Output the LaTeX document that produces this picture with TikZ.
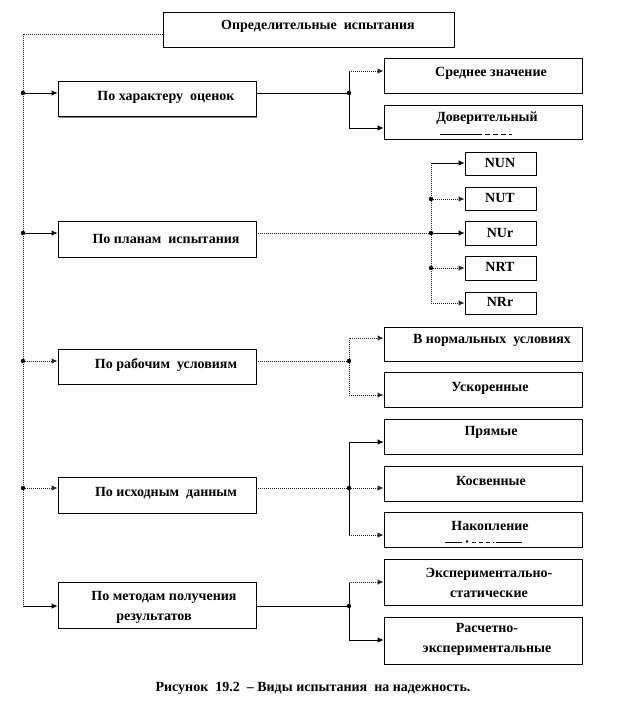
\documentclass[tikz,border=0pt]{standalone}
\usepackage{fontspec}
\setmainfont{Liberation Serif}
\usetikzlibrary{arrows.meta,shadows}
\begin{document}
\begin{tikzpicture}[x=1pt,y=-1pt,
  box/.style={draw=black, line width=0.8pt, fill=white, inner sep=0pt,
    drop shadow={shadow xshift=1.3pt, shadow yshift=-1.3pt, fill=black!50, opacity=1}},
  lbox/.style={box, minimum width=198pt},
  sbox/.style={box, minimum width=71pt, minimum height=23pt},
  lbl/.style={font=\bfseries\fontsize{14}{20}\selectfont, inner sep=0pt, align=center},
  sline/.style={line width=0.9pt},
  dline/.style={line width=1pt, densely dotted, black!85},
  arr/.style={-{Latex[length=6pt,width=5.5pt]}},
  jdot/.style={circle, fill=black, inner sep=0pt, minimum size=4.4pt},
  clipline/.style={line width=0.9pt}
]
\fill[white] (0,0) rectangle (617,724);
\useasboundingbox (0,0) rectangle (617,724);

% top box
\node[box, minimum width=291pt, minimum height=35pt] (top) at (308.5,29.5) {};
\node[lbl] (ttop) at (318,26) {Определительные\ \ испытания};

% left boxes
\node[box, minimum width=198pt, minimum height=35pt] (b1) at (157,99) {};
\node[box, minimum width=198pt, minimum height=36pt] (b2) at (157,239) {};
\node[box, minimum width=198pt, minimum height=35pt] (b3) at (157,366.5) {};
\node[box, minimum width=198pt, minimum height=36pt] (b4) at (157,495) {};
\node[box, minimum width=198pt, minimum height=46pt] (b5) at (157,605) {};
\node[lbl] (tb1) at (166,97) {По характеру\ \ оценок};
\node[lbl] (tb2) at (166,239) {По планам\ \ испытания};
\node[lbl] (tb3) at (166,365) {По рабочим\ \ условиям};
\node[lbl] (tb4) at (166,493) {По исходным\ \ данным};
\node[lbl] (tb5) at (164,607.5) {По методам получения\\\hspace*{-20pt}результатов};

% right boxes
\node[lbox, minimum height=35pt] (r1a) at (483,75.5) {};
\node[lbox, minimum height=34pt] (r1b) at (483,122) {};
\node[lbox, minimum height=34pt] (r3a) at (483,344) {};
\node[lbox, minimum height=35pt] (r3b) at (483,389.5) {};
\node[lbox, minimum height=35pt] (r4a) at (483,436.5) {};
\node[lbox, minimum height=35pt] (r4b) at (483,483.5) {};
\node[lbox, minimum height=35pt] (r4c) at (483,529.5) {};
\node[lbox, minimum height=46pt] (r5a) at (483,582) {};
\node[lbox, minimum height=47pt] (r5b) at (483,640.5) {};
\node[lbl] (tr1a) at (491,73) {Среднее значение};
\node[lbl] (tr1b) at (487,118) {Доверительный};
\node[lbl] (tr3a) at (492,340) {В нормальных\ \ условиях};
\node[lbl] (tr3b) at (490,388) {Ускоренные};
\node[lbl] (tr4a) at (491,432) {Прямые};
\node[lbl] (tr4b) at (491,481) {Косвенные};
\node[lbl] (tr4c) at (490,526) {Накопление};
\node[lbl] (tr5a) at (489,582.5) {Экспериментально-\\статические};
\node[lbl] (tr5b) at (487,639) {Расчетно-\\экспериментальные};

% clipped second lines
\draw[clipline] (440,134) -- (482,134);
\draw[clipline, dash pattern=on 5pt off 3pt] (485,134) -- (512,134);
\draw[clipline] (445,542) -- (462,542);
\fill (467,541.5) circle (1.4pt);
\draw[clipline, dash pattern=on 4pt off 3pt] (472,542) -- (494,542);
\draw[clipline] (496,542) -- (522,542);

% small boxes
\node[sbox] (nun) at (500.5,163.5) {};
\node[sbox] (nut) at (500.5,198.5) {};
\node[sbox, minimum height=24pt] (nur) at (500.5,233) {};
\node[sbox, minimum height=24pt] (nrt) at (500.5,268) {};
\node[sbox, minimum height=22pt] (nrr) at (500.5,303) {};
\node[lbl] (tnun) at (500,163) {NUN};
\node[lbl] (tnut) at (500,198) {NUT};
\node[lbl] (tnur) at (500,233) {NUr};
\node[lbl] (tnrt) at (500,267) {NRT};
\node[lbl] (tnrr) at (500,302) {NRr};

% caption
\node[lbl] (cap) at (313,688) {Рисунок\ \ 19.2\ \ – Виды испытания\ \ на надежность.};

% bus
\coordinate (bus0) at (23,34);
\coordinate (bus1) at (23,93);
\coordinate (bus2) at (23,233);
\coordinate (bus3) at (23,361);
\coordinate (bus4) at (23,488);
\coordinate (bus5) at (23,606);
\draw[dline] (top.west |- bus0) -- (bus0) -- (bus5);
\draw[sline, arr] (bus1) -- (b1.west |- bus1);
\draw[sline, arr] (bus2) -- (b2.west |- bus2);
\draw[dline, arr] (bus3) -- (b3.west |- bus3);
\draw[dline, arr] (bus4) -- (b4.west |- bus4);
\draw[sline, arr] (bus5) -- (b5.west |- bus5);
\foreach \c in {bus1,bus2,bus3,bus4} \node[jdot] at (\c) {};

% group 1
\coordinate (j1) at (349,93);
\draw[sline] (b1.east |- j1) -- (j1);
\draw[sline] (j1) -- (349,71);
\draw[dline, arr] (349,71) -- (r1a.west |- 0,71);
\draw[sline, arr] (j1) -- (349,128) -- (r1b.west |- 0,128);
\node[jdot] (dj1) at (j1) {};

% group 2
\coordinate (j2) at (431,233);
\draw[dline] (b2.east |- j2) -- (j2);
\draw[dline] (431,163) -- (431,303);
\draw[sline, arr] (431,163) -- (nun.west |- 0,163);
\draw[dline, arr] (431,199) -- (nut.west |- 0,199);
\draw[sline, arr] (j2) -- (nur.west |- j2);
\draw[dline, arr] (431,268) -- (nrt.west |- 0,268);
\draw[dline, arr] (431,303) -- (nrr.west |- 0,303);
\node[jdot] (dj2a) at (431,199) {};
\node[jdot] (dj2b) at (j2) {};
\node[jdot] (dj2c) at (431,268) {};

% group 3
\coordinate (j3) at (349,361);
\draw[dline] (b3.east |- j3) -- (j3);
\draw[dline, arr] (j3) -- (349,338) -- (r3a.west |- 0,338);
\draw[dline, arr] (j3) -- (349,395) -- (r3b.west |- 0,395);
\node[jdot] (dj3) at (j3) {};

% group 4
\coordinate (j4) at (349,488);
\draw[dline] (b4.east |- j4) -- (j4);
\draw[sline] (349,442) -- (349,535);
\draw[sline, arr] (349,442) -- (r4a.west |- 0,442);
\draw[dline, arr] (j4) -- (r4b.west |- j4);
\draw[dline, arr] (349,535) -- (r4c.west |- 0,535);
\node[jdot] (dj4) at (j4) {};

% group 5
\coordinate (j5) at (349,606);
\draw[sline] (b5.east |- j5) -- (j5);
\draw[sline] (j5) -- (349,582);
\draw[dline, arr] (349,582) -- (r5a.west |- 0,582);
\draw[sline, arr] (j5) -- (349,640) -- (r5b.west |- 0,640);
\node[jdot] (dj5) at (j5) {};
\end{tikzpicture}
\end{document}
